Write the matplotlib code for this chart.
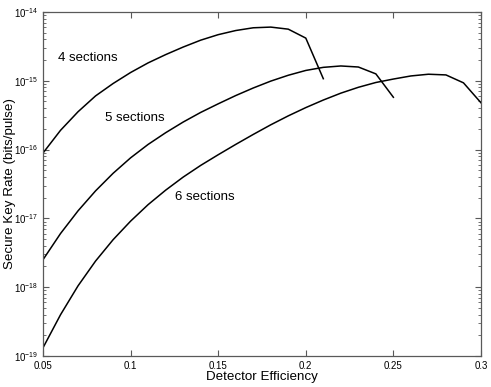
import numpy as np
import matplotlib
matplotlib.use('Agg')
import matplotlib.pyplot as plt
from matplotlib.ticker import FixedLocator, FixedFormatter, LogLocator, NullFormatter

plt.rcParams['font.family'] = ['Liberation Sans', 'DejaVu Sans']
plt.rcParams['mathtext.fontset'] = 'custom'
plt.rcParams['mathtext.rm'] = 'Liberation Sans'
plt.rcParams['mathtext.it'] = 'Liberation Sans:italic'

# Detector efficiency samples and log10 of secure key rate
eff_4 = [0.05, 0.06, 0.07, 0.08, 0.09, 0.10, 0.11, 0.12, 0.13, 0.14, 0.15,
         0.16, 0.17, 0.18, 0.19, 0.20, 0.21]
log_rate_4 = [-16.05, -15.72, -15.45, -15.22, -15.04, -14.88, -14.74, -14.62, -14.51,
              -14.41, -14.33, -14.27, -14.23, -14.22, -14.25, -14.38, -14.97]

eff_5 = [0.05, 0.06, 0.07, 0.08, 0.09, 0.10, 0.11, 0.12, 0.13, 0.14, 0.15,
         0.16, 0.17, 0.18, 0.19, 0.20, 0.21, 0.22, 0.23, 0.24, 0.25]
log_rate_5 = [-17.60, -17.22, -16.89, -16.60, -16.345, -16.12, -15.925, -15.755, -15.60,
              -15.46, -15.335, -15.215, -15.105, -15.005, -14.92, -14.85, -14.805,
              -14.785, -14.80, -14.90, -15.24]

eff_6 = [0.05, 0.06, 0.07, 0.08, 0.09, 0.10, 0.11, 0.12, 0.13, 0.14, 0.15,
         0.16, 0.17, 0.18, 0.19, 0.20, 0.21, 0.22, 0.23, 0.24, 0.25, 0.26,
         0.27, 0.28, 0.29, 0.30]
log_rate_6 = [-18.88, -18.40, -17.98, -17.62, -17.31, -17.04, -16.80, -16.59, -16.40,
              -16.23, -16.075, -15.925, -15.78, -15.64, -15.51, -15.39, -15.28, -15.18,
              -15.095, -15.025, -14.975, -14.93, -14.905, -14.915, -15.03, -15.32]

x_ticks = [0.05, 0.1, 0.15, 0.2, 0.25, 0.3]
x_tick_labels = ['0.05', '0.1', '0.15', '0.2', '0.25', '0.3']
y_exponents = [-19, -18, -17, -16, -15, -14]
y_ticks = [10.0 ** e for e in y_exponents]
y_tick_labels = ['$10^{%d}$' % e for e in y_exponents]

fig = plt.figure(figsize=(4.91, 3.87), dpi=100)
ax = fig.add_axes([0.0876, 0.0801, 0.892, 0.889])

for eff, lr in [(eff_4, log_rate_4), (eff_5, log_rate_5), (eff_6, log_rate_6)]:
    ax.plot(eff, 10.0 ** np.array(lr), color='black', linewidth=1.1)

ax.set_yscale('log')
ax.set_xlim(0.05, 0.3)
ax.set_ylim(1e-19, 1e-14)

ax.xaxis.set_major_locator(FixedLocator(x_ticks))
ax.xaxis.set_major_formatter(FixedFormatter(x_tick_labels))
ax.yaxis.set_major_locator(FixedLocator(y_ticks))
ax.yaxis.set_major_formatter(FixedFormatter(y_tick_labels))
ax.yaxis.set_minor_locator(LogLocator(base=10, subs=np.arange(2, 10), numticks=10))
ax.yaxis.set_minor_formatter(NullFormatter())

for side in ax.spines.values():
    side.set_color('0.35')
    side.set_linewidth(0.9)
ax.tick_params(which='both', direction='in', top=True, right=True, colors='0.35',
               labelcolor='black', labelsize=7)
ax.tick_params(which='major', length=4)
ax.tick_params(which='minor', length=2)

ax.text(0.0586, 10 ** -14.67, '4 sections', fontsize=9.5, va='center')
ax.text(0.0854, 10 ** -15.54, '5 sections', fontsize=9.5, va='center')
ax.text(0.1253, 10 ** -16.69, '6 sections', fontsize=9.5, va='center')

ax.set_xlabel('Detector Efficiency', fontsize=9.6)
ax.xaxis.set_label_coords(0.5, -0.043)
ax.set_ylabel('Secure Key Rate (bits/pulse)', fontsize=9.6)
ax.yaxis.set_label_coords(-0.062, 0.5)

fig.savefig('out.png', dpi=100)
